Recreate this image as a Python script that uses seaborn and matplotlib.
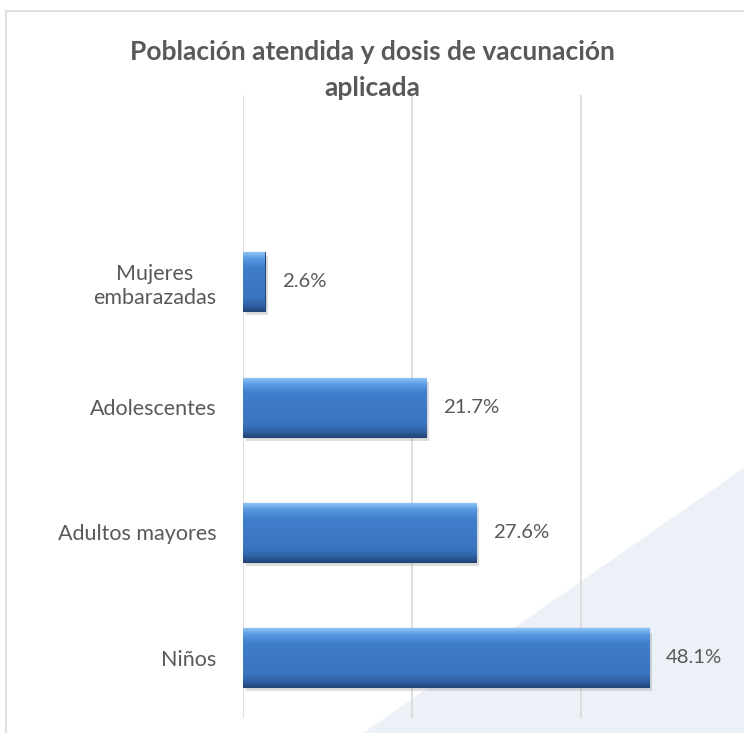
import matplotlib.pyplot as plt
import matplotlib.patheffects as pe
import numpy as np
import pandas as pd
import seaborn as sns
from matplotlib.colors import LinearSegmentedColormap
from matplotlib.patches import Polygon, Rectangle

# data
categories = ["Mujeres\nembarazadas", "Adolescentes", "Adultos mayores", "Niños"]
values = [2.6, 21.7, 27.6, 48.1]
value_labels = ["2.6%", "21.7%", "27.6%", "48.1%"]
grid_ticks = [0, 20, 40]
title_lines = ["Población atendida y dosis de vacunación", "aplicada"]

df = pd.DataFrame({"grupo": categories, "porcentaje": values})

sns.set_theme(style="white")
plt.rcParams["font.family"] = ["Lato", "DejaVu Sans"]
text_color = "#595959"

W, H = 744, 733
fig = plt.figure(figsize=(W / 100, H / 100), dpi=100)
fig.patch.set_facecolor("white")

# faint watermark shape in the lower right and the chart frame
fig.add_artist(Polygon([(363 / W, 0), (1, 1 - 468 / H), (1, 0)], closed=True,
                       facecolor="#ECF0F7", edgecolor="none",
                       transform=fig.transFigure, zorder=-2))
fig.add_artist(Rectangle((6 / W, -0.05), 2, (1 - 11 / H) + 0.05, fill=False,
                         edgecolor="#D9D9D9", linewidth=1.2,
                         transform=fig.transFigure, zorder=-1))

ax = fig.add_axes([243 / W, 1 - 718 / H, (740 - 243) / W, (718 - 95) / H])
ax.patch.set_alpha(0)

sns.barplot(data=df, x="porcentaje", y="grupo", orient="h", width=0.47,
            color="#3D7CC9", edgecolor="#23477A", linewidth=0.8, ax=ax)

# bevel-like vertical gradient on each bar
cmap = LinearSegmentedColormap.from_list(
    "bevel", [(0, "#8CC2F5"), (0.1, "#5A9AE3"), (0.25, "#417ECB"),
              (0.78, "#3A74BF"), (0.92, "#2F60A3"), (1, "#23477A")])
grad = np.linspace(0, 1, 64).reshape(-1, 1)
for patch in ax.patches:
    x0, y0 = patch.get_x(), patch.get_y()
    w, h = patch.get_width(), patch.get_height()
    im = ax.imshow(grad, cmap=cmap, aspect="auto", interpolation="bicubic",
                   extent=(x0, x0 + w, y0 + h, y0), zorder=patch.get_zorder() + 0.1)
    im.set_clip_path(patch)
    patch.set_path_effects([pe.SimplePatchShadow(offset=(2, -3), alpha=0.25, shadow_rgbFace="#7F7F7F"),
                            pe.Normal()])

ax.bar_label(ax.containers[0], labels=value_labels, padding=12,
             fontsize=14.6, color=text_color)

ax.set_xlim(0, (740 - 243) / 8.45)
ax.set_ylim(3.48, -1.49)
ax.set_xticks(grid_ticks)
ax.set_xticklabels([])
ax.grid(axis="x", color="#D9D9D9", linewidth=1.2)
ax.set_axisbelow(True)
ax.set_xlabel("")
ax.set_ylabel("")
ax.tick_params(axis="both", length=0)
ax.tick_params(axis="y", pad=19, labelsize=15.5, labelcolor=text_color)
for lab in ax.get_yticklabels():
    lab.set_multialignment("center")
    lab.set_linespacing(1.25)
for s in ax.spines.values():
    s.set_visible(False)

fig.text(0.5, 1 - 52 / H, title_lines[0], ha="center", va="center",
         fontsize=19, fontweight="bold", color=text_color)
fig.text(0.5, 1 - 88 / H, title_lines[1], ha="center", va="center",
         fontsize=19, fontweight="bold", color=text_color)

plt.savefig("out.png", dpi=100)
